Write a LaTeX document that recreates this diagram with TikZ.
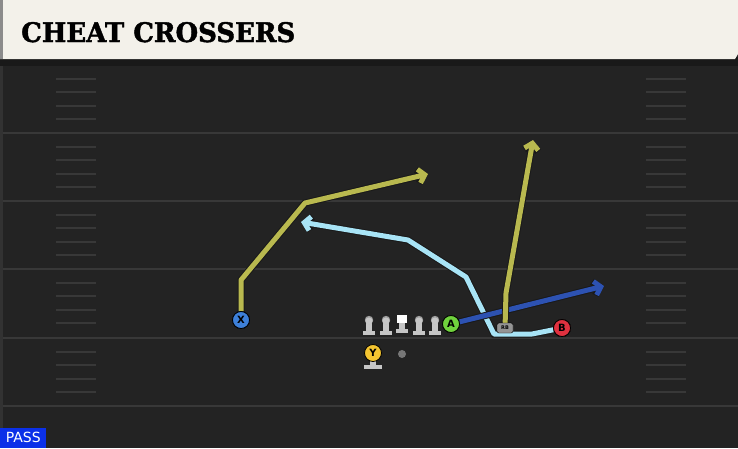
\documentclass[tikz,border=0pt]{standalone}
\usepackage{fontspec}
\setmainfont{DejaVu Sans}
\newfontfamily\titlefont[FakeBold=1.6]{DejaVu Serif}
\usetikzlibrary{positioning}
\usetikzlibrary{arrows.meta}

\definecolor{campo}{HTML}{232323}
\definecolor{raya}{HTML}{383838}
\definecolor{crema}{HTML}{F3F1EA}
\definecolor{oliva}{HTML}{B9B94F}
\definecolor{celeste}{HTML}{A8E4F6}
\definecolor{azul}{HTML}{2D52B2}
\definecolor{jugX}{HTML}{3D80D9}
\definecolor{jugA}{HTML}{70D23D}
\definecolor{jugB}{HTML}{E0313F}
\definecolor{jugY}{HTML}{F4C531}
\definecolor{gris}{HTML}{C6C6C6}
\definecolor{pase}{HTML}{0B30E8}

\tikzset{
  jugador/.style={draw=black, circle, line width=0.8pt, minimum size=17pt, inner sep=0pt,
    font=\bfseries\fontsize{10}{10}\selectfont},
  corredor/.style={draw=black, fill=gris!75!black, rounded corners=2pt, minimum width=16pt,
    minimum height=10pt, inner sep=0pt, font=\bfseries\fontsize{5}{5}\selectfont},
  ruta/.style={line width=5pt, line join=round, -{Straight Barb[length=6pt, width=14pt]},
    preaction={draw=black!90, line width=7pt}},
  marca/.style={draw=raya, line width=1.8pt},
  liniero/.pic={
    \fill[gris] (-6,15) rectangle (6,11);
    \fill[gris] (-3,11) rectangle (3,2);
    \fill[gris!80!black] (0,0) circle (4.2);
    \fill[gris] (0,1) circle (3.6);
  },
  centro/.pic={
    \fill[gris] (-6,11) rectangle (6,7);
    \fill[gris] (-3,7) rectangle (3,1);
    \fill[white] (-5,-7) rectangle (5,1);
  }
}

\begin{document}
\begin{tikzpicture}[x=1pt, y=-1pt]
  \useasboundingbox (0,0) rectangle (738,448);
  % Campo
  \fill[campo] (0,0) rectangle (738,448);
  \fill[raya!70!campo] (0,60) rectangle (3,448);
  \foreach \yl in {65,133,201,269,338,406}
    \draw[marca] (3,\yl) -- (738,\yl);
  \foreach \yl in {65,133,201,269,338}
    \foreach \d in {14,27,41,54} {
      \draw[marca, line width=1.5pt] (56,\yl+\d) -- (96,\yl+\d);
      \draw[marca, line width=1.5pt] (646,\yl+\d) -- (686,\yl+\d);
    }

  % Cabecera
  \fill[black!90] (0,57) rectangle (738,66);
  \fill[crema] (0,0) -- (738,0) -- (738,54) -- (735,59) -- (0,59) -- cycle;
  \fill[gris!70!black] (0,0) rectangle (3,59);
  \node[anchor=base west, inner sep=0pt] (titulo) at (21,42)
    {\resizebox{274pt}{20pt}{\titlefont\bfseries CHEAT CROSSERS}};

  % Jugadores
  \node[jugador, fill=jugX] (x) at (241,320) {X};
  \node[jugador, fill=jugA] (a) at (451,324) {A};
  \node[jugador, fill=jugB] (b) at (562,328) {B};
  \node[corredor] (rb) at (505,328) {RB};
  \node[circle, fill=gris!60!black, minimum size=8pt, inner sep=0pt] (qb) at (402,354) {};
  \fill[gris] (364,365) rectangle (382,369);
  \fill[gris] (370,360) rectangle (376,365);
  \node[jugador, fill=jugY] (y) at (373,353) {Y};

  % Linea
  \pic (lt1) at (369,320) {liniero};
  \pic (lg1) at (386,320) {liniero};
  \pic (c) at (402,322) {centro};
  \pic (lg2) at (419,320) {liniero};
  \pic (lt2) at (435,320) {liniero};

  % Fin de rutas
  \coordinate (finX) at (428,174);
  \coordinate (finRB) at (533,140);
  \coordinate (finA) at (604,286);
  \coordinate (finB) at (301,222);

  % Rutas
  \draw[ruta, celeste] (b) -- (532,334) -- (494,334) -- (466,277) -- (408,240) -- (finB);
  \draw[ruta, azul] (a) -- (finA);
  \draw[ruta, oliva] (x) -- (241,280) -- (305,203) -- (finX);
  \draw[ruta, oliva] (rb) -- (506,293) -- (finRB);
  \node[corredor] at (rb) {RB};
  \node[jugador, fill=jugX] at (x) {X};
  \node[jugador, fill=jugA] at (a) {A};
  \node[jugador, fill=jugB] at (b) {B};

  % Etiqueta
  \node[fill=pase, text=white, anchor=south west, minimum width=46pt, minimum height=20pt, inner sep=0pt,
    font=\fontsize{14}{14}\selectfont] (tipo) at (0,448) {PASS};
\end{tikzpicture}
\end{document}
